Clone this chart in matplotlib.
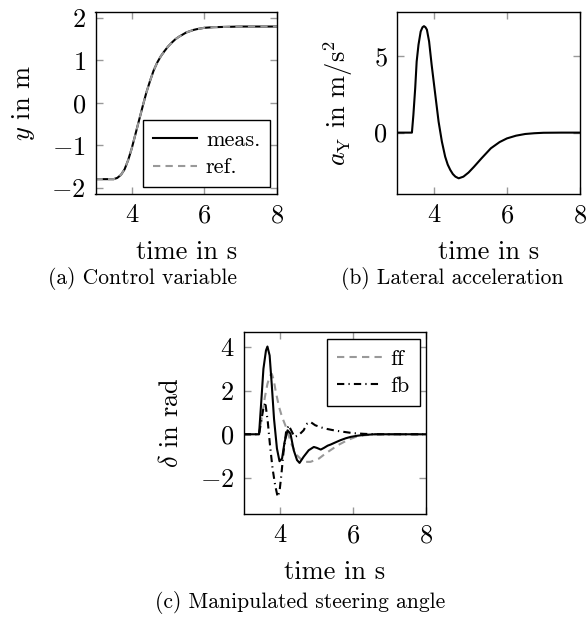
import matplotlib
matplotlib.use("Agg")
import matplotlib.pyplot as plt

plt.rcParams['font.family'] = 'serif'
plt.rcParams['font.serif'] = ['cmr10']
plt.rcParams['mathtext.fontset'] = 'cm'
plt.rcParams['axes.formatter.use_mathtext'] = True

# ---- (a) control variable ----
t_a = [3.0, 3.4, 3.5, 3.6, 3.7, 3.8, 3.9, 4.0, 4.1, 4.2, 4.3, 4.4, 4.5, 4.6, 4.7,
       4.8, 4.9, 5.0, 5.1, 5.2, 5.3, 5.4, 5.5, 5.6, 5.7, 5.8, 6.0, 6.25, 6.5, 7.0, 8.0]
y_meas = [-1.80, -1.80, -1.80, -1.77, -1.70, -1.57, -1.35, -1.07, -0.74, -0.41, -0.08,
          0.24, 0.51, 0.76, 0.95, 1.10, 1.22, 1.33, 1.42, 1.50, 1.56, 1.61, 1.66,
          1.69, 1.72, 1.74, 1.77, 1.785, 1.79, 1.80, 1.80]
y_ref = [-1.80, -1.80, -1.80, -1.77, -1.70, -1.57, -1.35, -1.07, -0.74, -0.41, -0.08,
         0.24, 0.51, 0.76, 0.95, 1.10, 1.22, 1.33, 1.42, 1.50, 1.56, 1.61, 1.66,
         1.69, 1.72, 1.74, 1.77, 1.785, 1.79, 1.80, 1.80]

# ---- (b) lateral acceleration ----
t_b = [3.0, 3.40, 3.44, 3.49, 3.53, 3.58, 3.64, 3.69, 3.73, 3.77, 3.81, 3.87, 3.94,
       4.04, 4.13, 4.22, 4.31, 4.38, 4.45, 4.52, 4.59, 4.68, 4.81, 4.95, 5.1, 5.3,
       5.56, 5.8, 6.0, 6.25, 6.5, 6.75, 7.0, 7.5, 8.0]
a_y = [0.0, 0.0, 1.16, 2.92, 4.67, 5.77, 6.64, 6.92, 6.99, 6.92, 6.76, 5.99, 4.45,
       2.48, 0.72, -0.59, -1.58, -2.1, -2.45, -2.72, -2.89, -3.0, -2.89, -2.62, -2.24,
       -1.7, -1.03, -0.62, -0.38, -0.2, -0.09, -0.04, -0.01, 0.0, 0.0]

# ---- (c) steering angle ----
t_meas = [3.0, 3.42, 3.48, 3.54, 3.61, 3.65, 3.71, 3.77, 3.83, 3.91, 3.98, 4.05,
          4.12, 4.20, 4.28, 4.37, 4.46, 4.53, 4.64, 4.78, 4.92, 5.0, 5.11, 5.2,
          5.3, 5.38, 5.5, 5.65, 5.8, 5.93, 6.1, 6.29, 6.6, 8.0]
d_meas = [0.0, 0.0, 1.47, 2.99, 3.83, 4.01, 3.6, 2.23, 0.71, -0.65, -1.23, -1.11,
          -0.35, 0.18, 0.03, -0.73, -1.18, -1.31, -1.03, -0.73, -0.58, -0.62, -0.70, -0.62,
          -0.52, -0.47, -0.38, -0.27, -0.18, -0.12, -0.07, -0.03, 0.0, 0.0]
t_ff = [3.0, 3.42, 3.5, 3.58, 3.65, 3.72, 3.77, 3.82, 3.88, 3.97, 4.05, 4.14, 4.23,
        4.32, 4.46, 4.64, 4.83, 5.06, 5.24, 5.4, 5.6, 5.84, 6.05, 6.29, 6.6, 8.0]
d_ff = [0.0, 0.0, 0.8, 1.7, 2.3, 2.68, 2.76, 2.5, 1.93, 1.24, 0.79, 0.41, -0.05,
        -0.5, -0.96, -1.26, -1.26, -1.11, -0.88, -0.7, -0.48, -0.27, -0.13, -0.05, 0.0, 0.0]
t_fb = [3.0, 3.42, 3.48, 3.54, 3.59, 3.66, 3.72, 3.79, 3.86, 3.93, 3.98, 4.03, 4.09,
        4.16, 4.23, 4.30, 4.39, 4.50, 4.64, 4.74, 4.83, 4.96, 5.15, 5.29, 5.5, 5.74,
        6.0, 6.29, 6.6, 8.0]
d_fb = [0.0, 0.0, 0.6, 1.2, 1.47, 0.56, -0.5, -1.56, -2.32, -2.86, -2.63, -1.87, -0.81,
        0.1, 0.41, 0.18, -0.12, -0.05, 0.18, 0.49, 0.56, 0.41, 0.3, 0.24, 0.17, 0.11,
        0.05, 0.02, 0.0, 0.0]

xticks = [4, 6, 8]
captions = ["(a) Control variable", "(b) Lateral acceleration",
            "(c) Manipulated steering angle"]

W, H = 586, 621
fig = plt.figure(figsize=(W / 100, H / 100), dpi=100)

def px_axes(l, r, t, b):
    return fig.add_axes([l / W, (H - b) / H, (r - l) / W, (b - t) / H])

GRAY = '0.6'
LW = 1.5
FS = 19
LFS = 16
CFS = 15.5

def style(ax):
    ax.set_xlim(3, 8)
    ax.set_xticks(xticks)
    ax.tick_params(direction='in', length=5, width=1.0, color='0.6',
                   top=True, right=True, labelsize=FS, pad=7)
    for s in ax.spines.values():
        s.set_linewidth(1.0)
    ax.set_xlabel("time in s", fontsize=FS)
    ax.xaxis.set_label_coords(0.5, -0.255)

def legend(ax, loc):
    lg = ax.legend(loc=loc, fontsize=LFS, fancybox=False, edgecolor='black',
                   framealpha=1, handlelength=2.0, handletextpad=0.4,
                   borderpad=0.45, labelspacing=0.35, borderaxespad=0.3)
    lg.get_frame().set_linewidth(1.0)
    return lg

ax1 = px_axes(95.5, 277, 11.7, 194)
ax1.plot(t_a, y_meas, color='black', lw=LW, label='meas.')
ax1.plot(t_a, y_ref, color=GRAY, lw=LW, dashes=(3.5, 2.5), label='ref.')
ax1.set_ylim(-2.15, 2.15)
ax1.set_yticks([-2, -1, 0, 1, 2])
style(ax1)
ax1.set_ylabel("$y$ in m", fontsize=FS)
ax1.yaxis.set_label_coords(-0.32, 0.5)
legend(ax1, 'lower right')

ax2 = px_axes(397.3, 580, 11.7, 194)
ax2.plot(t_b, a_y, color='black', lw=LW)
ax2.set_ylim(-4.03, 7.94)
ax2.set_yticks([0, 5])
style(ax2)
ax2.set_ylabel(r"$a_{\mathrm{Y}}$ in m/s$^2$", fontsize=FS)
ax2.yaxis.set_label_coords(-0.232, 0.5)

ax3 = px_axes(243.7, 426.3, 332.3, 513.7)
ax3.plot(t_ff, d_ff, color=GRAY, lw=LW, dashes=(3.5, 2.5), label='ff')
ax3.plot(t_fb, d_fb, color='black', lw=LW, dashes=(3.5, 2, 0.6, 2), label='fb')
ax3.plot(t_meas, d_meas, color='black', lw=LW)
ax3.set_ylim(-3.63, 4.66)
ax3.set_yticks([-2, 0, 2, 4])
style(ax3)
ax3.set_ylabel(r"$\delta$ in rad", fontsize=FS)
ax3.yaxis.set_label_coords(-0.33, 0.5)
legend(ax3, 'upper right')

fig.text(143 / W, 1 - 278 / H, captions[0], ha='center', va='center', fontsize=CFS)
fig.text(452 / W, 1 - 278 / H, captions[1], ha='center', va='center', fontsize=CFS)
fig.text(300 / W, 1 - 603 / H, captions[2], ha='center', va='center', fontsize=CFS)

fig.savefig("out.png", dpi=100)
